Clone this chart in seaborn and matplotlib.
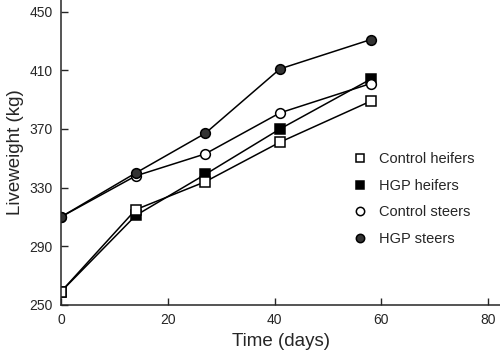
"""Liveweight over time for heifers and steers (control vs HGP)"""

import numpy as np
import pandas as pd
import matplotlib
matplotlib.use('Agg')
import matplotlib.pyplot as plt
from matplotlib.lines import Line2D
import seaborn as sns

days = [0, 14, 27, 41, 58]
control_heifers = [259, 315, 334, 361, 389]
hgp_heifers = [259, 311, 339, 370, 404]
control_steers = [310, 338, 353, 381, 401]
hgp_steers = [310, 340, 367, 411, 431]

series_names = ['Control heifers', 'HGP heifers', 'Control steers', 'HGP steers']

sns.set_style('ticks')
plt.rcParams['font.family'] = ['Liberation Sans', 'DejaVu Sans']

# 样式：标记形状 / 填充颜色
styles = {
    'Control heifers': dict(marker='s', mfc='white', ms=7.5),
    'HGP heifers': dict(marker='s', mfc='black', ms=7.5),
    'Control steers': dict(marker='o', mfc='white', ms=7),
    'HGP steers': dict(marker='o', mfc='#333333', ms=7),
}
values = {
    'Control heifers': control_heifers,
    'HGP heifers': hgp_heifers,
    'Control steers': control_steers,
    'HGP steers': hgp_steers,
}
draw_order = ['HGP heifers', 'Control heifers', 'Control steers', 'HGP steers']

fig = plt.figure(figsize=(5, 3.57), dpi=100)
ax = fig.add_axes([0.122, 0.146, 0.878, 0.854])

for name in draw_order:
    df = pd.DataFrame({'day': days, 'weight': values[name]})
    sns.lineplot(data=df, x='day', y='weight', ax=ax, color='black',
                 linewidth=1.1, mec='black', mew=1.1, **styles[name])

ax.set_xlim(0, 82.2)
ax.set_ylim(250, 458)
ax.set_xticks([0, 20, 40, 60, 80])
ax.set_yticks(np.arange(250, 451, 40))
ax.tick_params(direction='in', length=5, width=1, labelsize=10, pad=6)
for s in ['left', 'bottom']:
    ax.spines[s].set_linewidth(1.1)
sns.despine(ax=ax)
ax.set_xlabel('Time (days)', fontsize=13.5)
ax.set_ylabel('Liveweight (kg)', fontsize=13.5)

# 图例只显示标记
leg_styles = {n: dict(styles[n], ms=6) for n in series_names}
handles = [Line2D([], [], linestyle='none', color='black', mec='black',
                  mew=1.1, **leg_styles[n]) for n in series_names]
ax.legend(handles, series_names, loc='upper left', bbox_to_anchor=(0.667, 0.5),
          frameon=False, fontsize=10.5, handlelength=0.8, handletextpad=0.9,
          labelspacing=0.85, borderpad=0, borderaxespad=0)

fig.savefig('out.png', dpi=100)
